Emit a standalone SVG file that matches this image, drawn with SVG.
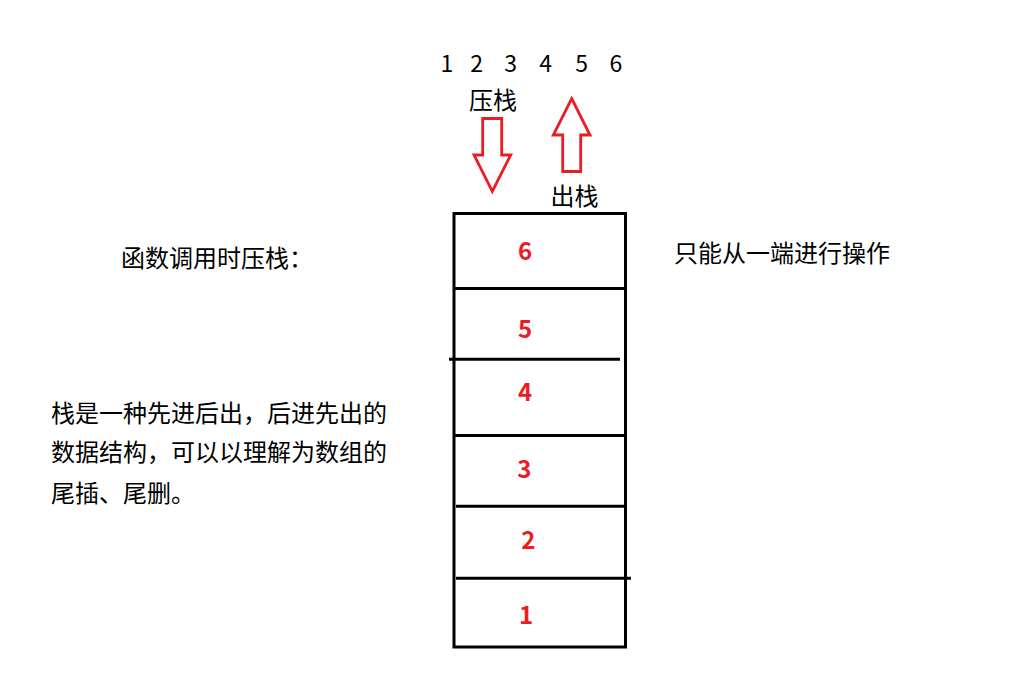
<svg xmlns="http://www.w3.org/2000/svg" width="1020" height="676" viewBox="0 0 1020 676">
<style>
.t{font-family:"Noto Sans CJK SC","Microsoft YaHei",sans-serif;font-size:24px;fill:#000}
.d{font-family:"Noto Sans CJK SC",sans-serif;font-size:23px;fill:#000;text-anchor:middle}
.n{font-family:"Noto Sans CJK SC",sans-serif;font-size:24px;font-weight:bold;fill:#ED1C24;text-anchor:middle}
.ln{stroke:#000;stroke-width:3;fill:none}
.ar{stroke:#ED1C24;stroke-width:2.8;fill:#fff;stroke-linejoin:miter}
</style>
<rect width="1020" height="676" fill="#fff"/>
<g id="sequence">
<text class="d" y="72"><tspan x="447">1</tspan><tspan x="476.7">2</tspan><tspan x="510.7">3</tspan><tspan x="545.7">4</tspan><tspan x="581.7">5</tspan><tspan x="616">6</tspan></text>
</g>
<g id="push-label"><text class="t" x="469" y="109">压栈</text></g>
<g id="pop-label"><text class="t" x="550.5" y="205">出栈</text></g>
<g id="push-arrow"><polygon class="ar" points="482.7,118.5 501.7,118.5 501.7,155 510.7,155 492.3,191.5 474,155 482.7,155"/></g>
<g id="pop-arrow"><polygon class="ar" points="571.7,98.5 590,135 580.7,135 580.7,171.5 562.7,171.5 562.7,135 553.3,135"/></g>
<g id="stack">
<rect class="ln" x="454" y="213.5" width="171.5" height="433.5"/>
<line class="ln" x1="454" y1="288.5" x2="625.5" y2="288.5"/>
<line class="ln" x1="449" y1="359.3" x2="620" y2="359.3"/>
<line class="ln" x1="454" y1="435.5" x2="625.5" y2="435.5"/>
<line class="ln" x1="456" y1="506.3" x2="625.5" y2="506.3"/>
<line class="ln" x1="456" y1="578.3" x2="631" y2="578.3"/>
</g>
<g id="item6"><text class="n" x="525" y="260">6</text></g>
<g id="item5"><text class="n" x="525" y="338">5</text></g>
<g id="item4"><text class="n" x="525" y="401">4</text></g>
<g id="item3"><text class="n" x="524.3" y="478">3</text></g>
<g id="item2"><text class="n" x="528.3" y="548.5">2</text></g>
<g id="item1"><text class="n" x="526" y="623.5">1</text></g>
<g id="call-label"><text class="t" x="121" y="267">函数调用时压栈：</text></g>
<g id="right-note"><text class="t" x="674" y="261.5">只能从一端进行操作</text></g>
<g id="description">
<text class="t" x="51" y="422">栈是一种先进后出，后进先出的</text>
<text class="t" x="51" y="461">数据结构，可以以理解为数组的</text>
<text class="t" x="51" y="502">尾插、尾删。</text>
</g>
<g id="connectors"></g>
</svg>
